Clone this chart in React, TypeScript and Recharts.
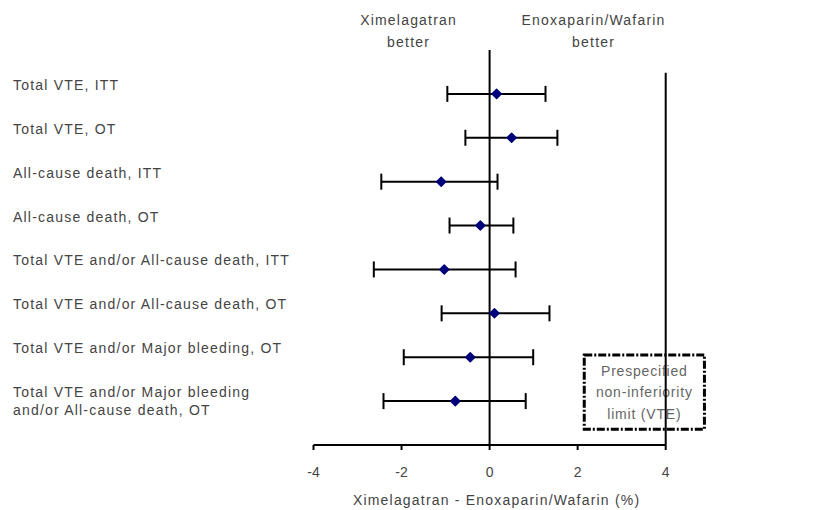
import {
  ScatterChart,
  Scatter,
  XAxis,
  YAxis,
  ErrorBar,
  ReferenceLine,
  ReferenceArea,
  Label,
} from 'recharts'

const outcomes = [
  'Total VTE, ITT',
  'Total VTE, OT',
  'All-cause death, ITT',
  'All-cause death, OT',
  'Total VTE and/or All-cause death, ITT',
  'Total VTE and/or All-cause death, OT',
  'Total VTE and/or Major bleeding, OT',
  'Total VTE and/or Major bleeding\nand/or All-cause death, OT',
]
const rates = [
  '2.1% vs. 2.0%',
  '2.0% vs. 1.5%',
  '2.3% vs. 3.4%',
  '0.7% vs. 0.9%',
  '3.9% vs. 5.0%',
  '2.5% vs. 2.4%',
  '3.2% vs. 3.7%',
  '3.6% vs 4.4%',
]
const estimate = [0.16, 0.5, -1.1, -0.21, -1.03, 0.11, -0.44, -0.78]
const lower = [-0.96, -0.55, -2.46, -0.91, -2.63, -1.09, -1.95, -2.41]
const upper = [1.27, 1.54, 0.18, 0.54, 0.59, 1.36, 0.99, 0.82]
const xTicks = [-4, -2, 0, 2, 4]
const nonInferiorityLimit = 4

const data = outcomes.map((name, i) => ({
  name,
  row: i,
  diff: estimate[i],
  ci: [estimate[i] - lower[i], upper[i] - estimate[i]],
}))

const font = '"Liberation Sans", Arial, sans-serif'
const textColor = '#444'
const spacing = '1.2px'

function OutcomeTick(props: any) {
  const { y, payload } = props
  const lines = outcomes[payload.value].split('\n')
  return (
    <text x={13} y={y - 4} fill={textColor} fontSize={14} fontFamily={font} style={{ letterSpacing: spacing }}>
      {lines.map((l, i) => (
        <tspan key={i} x={13} dy={i === 0 ? 0 : 18}>
          {l}
        </tspan>
      ))}
    </text>
  )
}

function HeaderLabel(props: any) {
  const { x, y } = props.viewBox
  const style = { letterSpacing: spacing }
  return (
    <g fill={textColor} fontSize={14} fontFamily={font} textAnchor="middle" style={style}>
      <text x={x - 81} y={y - 25}>Ximelagatran</text>
      <text x={x - 81} y={y - 3}>better</text>
      <text x={x + 104} y={y - 25}>Enoxaparin/Wafarin</text>
      <text x={x + 104} y={y - 3}>better</text>
    </g>
  )
}

function LimitBox(props: any) {
  const { x, y, width, height } = props
  const cx = x + width / 2
  const cy = y + height / 2
  return (
    <g>
      <rect x={x} y={y} width={width} height={height} fill="#fff" stroke="#000" strokeWidth={3} strokeDasharray="8 2 2 2" />
      <g fill="#666" fontSize={14} fontFamily={font} textAnchor="middle" style={{ letterSpacing: '0.8px' }}>
        <text x={cx} y={cy - 16}>Prespecified</text>
        <text x={cx} y={cy + 5}>non-inferiority</text>
        <text x={cx} y={cy + 27}>limit (VTE)</text>
      </g>
    </g>
  )
}

function Diamond(props: any) {
  const { cx, cy } = props
  const r = 4.5
  return <polygon points={`${cx},${cy - r} ${cx + r},${cy} ${cx},${cy + r} ${cx - r},${cy}`} fill="#00007a" stroke="#00007a" strokeWidth={1.5} strokeLinejoin="round" />
}

export default function App() {
  const rows = outcomes.map((_, i) => i)
  return (
    <div style={{ position: 'absolute', left: 0, top: 0, background: '#fff' }}>
      <ScatterChart width={830} height={510} margin={{ top: 50, right: 0, bottom: 0, left: 0 }}>
        <XAxis
          type="number"
          dataKey="diff"
          domain={[-4, 4]}
          ticks={xTicks}
          allowDataOverflow
          height={65}
          axisLine={{ stroke: '#000', strokeWidth: 2 }}
          tickLine={{ stroke: '#000', strokeWidth: 2 }}
          tickSize={5}
          tickMargin={17}
          tick={{ fill: textColor, fontSize: 14, fontFamily: font }}
        >
          <Label
            value="Ximelagatran - Enoxaparin/Wafarin (%)"
            position="insideBottom"
            offset={5}
            dx={7}
            fill={textColor}
            fontSize={14}
            fontFamily={font}
            style={{ letterSpacing: spacing }}
          />
        </XAxis>
        <YAxis
          yAxisId="left"
          type="number"
          dataKey="row"
          domain={[-1, 8]}
          ticks={rows}
          reversed
          width={313.5}
          axisLine={false}
          tickLine={false}
          tick={<OutcomeTick />}
        />
        <YAxis
          yAxisId="right"
          orientation="right"
          type="number"
          domain={[-1, 8]}
          ticks={rows}
          reversed
          width={164.3}
          axisLine={false}
          tickLine={false}
          tickSize={0}
          tickMargin={54}
          tickFormatter={(v: number) => rates[v]}
          tick={{ fill: textColor, fontSize: 14, fontFamily: font, style: { letterSpacing: spacing } }}
        />
        <ReferenceLine
          yAxisId="left"
          segment={[
            { x: nonInferiorityLimit, y: -0.48 },
            { x: nonInferiorityLimit, y: 8 },
          ]}
          stroke="#000"
          strokeWidth={2}
        />
        <ReferenceArea
          yAxisId="left"
          x1={2.15}
          x2={4.88}
          y1={5.95}
          y2={7.64}
          ifOverflow="visible"
          shape={<LimitBox />}
        />
        <ReferenceLine yAxisId="left" x={0} stroke="#000" strokeWidth={2}>
          <Label content={<HeaderLabel />} />
        </ReferenceLine>
        <Scatter yAxisId="left" data={data} dataKey="diff" shape={<Diamond />} isAnimationActive={false}>
          <ErrorBar dataKey="ci" direction="x" width={8} stroke="#000" strokeWidth={2} isAnimationActive={false} />
        </Scatter>
      </ScatterChart>
    </div>
  )
}
